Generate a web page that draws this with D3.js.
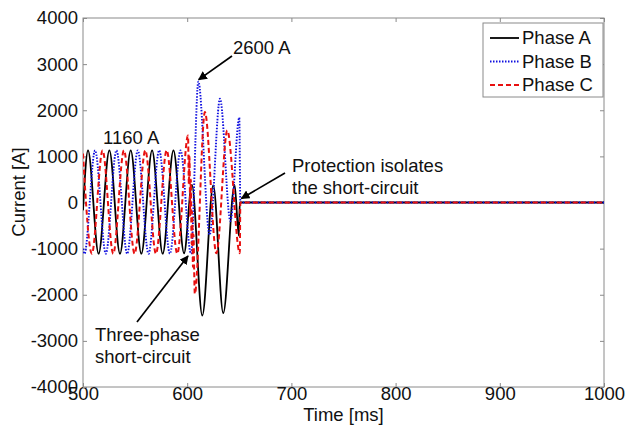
<!DOCTYPE html>
<html>
<head>
<meta charset="utf-8">
<script src="https://cdn.jsdelivr.net/npm/d3@7"></script>
<style>
  body { margin: 0; background: #fff; }
  text { font-family: "Liberation Sans", Arial, sans-serif; }
</style>
</head>
<body>
<svg id="chart" width="627" height="428"></svg>
<script>
// Extrema (time in ms, current in A)
var phaseA_t = [500, 504.8, 515, 525.3, 535.5, 545.8, 556, 566.3, 576.5, 586.8, 597, 604.5, 614.5, 625, 634.6, 645.5, 649.5, 650.5, 1000];
var phaseA_i = [-170, 1130, -1110, 1130, -1110, 1130, -1110, 1130, -1110, 1130, -1100, 380, -2450, 370, -2400, 380, -720, 0, 0];

var phaseB_t = [500, 501.4, 511.6, 521.9, 532.1, 542.4, 552.6, 562.9, 573.1, 583.4, 593.6, 603.6, 610.7, 621.5, 631.5, 641.5, 650, 651, 1000];
var phaseB_i = [-1000, -1110, 1130, -1110, 1130, -1110, 1130, -1110, 1130, -1110, 1130, -1110, 2620, -700, 2250, -400, 1840, 0, 0];

var phaseC_t = [500, 508.5, 518.8, 529, 539.3, 549.5, 559.8, 570, 580.3, 590.5, 600.8, 601.6, 602.2, 602.9, 603.5, 604.2, 604.8, 605.5, 606.1, 606.7, 607.3, 617, 628, 638.5, 650.5, 651, 1000];
var phaseC_i = [1060, -1110, 1130, -1110, 1130, -1110, 1130, -1110, 1130, -1110, 1450, 400, 1000, -300, 500, -900, -200, -1400, -700, -1500, -1980, 1960, -1100, 1560, -1100, 0, 0];

var seriesNames = ["Phase A", "Phase B", "Phase C"];
var xTicks = [500, 600, 700, 800, 900, 1000];
var yTicks = [-4000, -3000, -2000, -1000, 0, 1000, 2000, 3000, 4000];

// styling per series
var styles = [
    {color: "#000000", dash: null, width: 1.8},
    {color: "#1010e0", dash: "1.5,1.5", width: 1.9},
    {color: "#e81010", dash: "5,3", width: 2}
];

var margin = {top: 18, right: 23, bottom: 41, left: 83};
var width = 627 - margin.left - margin.right;
var height = 428 - margin.top - margin.bottom;
var fontSize = "18.5px";

var svg = d3.select("#chart");
var g = svg.append("g")
    .attr("transform", `translate(${margin.left}, ${margin.top})`);

var x = d3.scaleLinear().domain([500, 1000]).range([0, width]);
var y = d3.scaleLinear().domain([-4000, 4000]).range([height, 0]);

g.append("clipPath").attr("id", "clip")
    .append("rect").attr("width", width).attr("height", height);

// box + inward ticks like matlab
var axisColor = "#8a8a8a";
g.append("rect")
    .attr("width", width).attr("height", height)
    .attr("fill", "none").attr("stroke", axisColor);

var fmt = function(d) { return String(d); };
var xAxis = g.append("g").attr("transform", `translate(0, ${height})`)
    .call(d3.axisBottom(x).tickValues(xTicks).tickFormat(fmt).tickSizeInner(-4).tickSizeOuter(0).tickPadding(5));
var xAxisTop = g.append("g")
    .call(d3.axisTop(x).tickValues(xTicks).tickSizeInner(-4).tickSizeOuter(0).tickFormat(""));
var yAxis = g.append("g")
    .call(d3.axisLeft(y).tickValues(yTicks).tickFormat(fmt).tickSizeInner(-4).tickSizeOuter(0).tickPadding(5));
var yAxisRight = g.append("g").attr("transform", `translate(${width}, 0)`)
    .call(d3.axisRight(y).tickValues(yTicks).tickSizeInner(-4).tickSizeOuter(0).tickFormat(""));

[xAxis, xAxisTop, yAxis, yAxisRight].forEach(function(a) {
    a.select(".domain").remove();
    a.selectAll(".tick line").attr("stroke", axisColor);
    a.selectAll(".tick text")
        .attr("fill", "#111")
        .style("font-size", fontSize)
        .style("font-family", "Liberation Sans, Arial, sans-serif");
});
xAxis.selectAll(".tick text").attr("dy", "0.45em");

// axis labels
svg.append("text")
    .attr("x", margin.left + width / 2).attr("y", 421)
    .attr("text-anchor", "middle")
    .style("font-size", fontSize).attr("fill", "#111")
    .text("Time [ms]");

svg.append("text")
    .attr("transform", `translate(25, 192) rotate(-90)`)
    .attr("text-anchor", "middle")
    .style("font-size", fontSize).attr("fill", "#111")
    .text("Current [A]");

// waveforms
var line = d3.line()
    .x(function(d) { return x(d[0]); })
    .y(function(d) { return y(d[1]); })
    .curve(d3.curveMonotoneX);

var series = [
    d3.zip(phaseA_t, phaseA_i),
    d3.zip(phaseB_t, phaseB_i),
    d3.zip(phaseC_t, phaseC_i)
];

var plot = g.append("g").attr("clip-path", "url(#clip)");
plot.selectAll(".wave")
    .data(series)
    .join("path")
    .attr("class", "wave")
    .attr("fill", "none")
    .attr("stroke", function(d, i) { return styles[i].color; })
    .attr("stroke-width", function(d, i) { return styles[i].width; })
    .attr("stroke-dasharray", function(d, i) { return styles[i].dash; })
    .attr("d", line);

// annotations
svg.append("defs").append("marker")
    .attr("id", "arrow")
    .attr("viewBox", "0 0 10 10")
    .attr("refX", 9).attr("refY", 5)
    .attr("markerWidth", 9).attr("markerHeight", 9)
    .attr("markerUnits", "userSpaceOnUse")
    .attr("orient", "auto")
    .append("path").attr("d", "M0,0 L10,5 L0,10 z").attr("fill", "#000");

function label(lines, px, py) {
    var t = svg.append("text")
        .attr("x", px).attr("y", py)
        .style("font-size", fontSize).attr("fill", "#111");
    lines.forEach(function(s, i) {
        t.append("tspan").attr("x", px).attr("dy", i === 0 ? 0 : 22).text(s);
    });
}
function arrow(x1, y1, x2, y2) {
    svg.append("line")
        .attr("x1", x1).attr("y1", y1).attr("x2", x2).attr("y2", y2)
        .attr("stroke", "#000").attr("stroke-width", 1.7)
        .attr("marker-end", "url(#arrow)");
}

label(["2600 A"], 233, 54);
arrow(232, 56, margin.left + x(611), margin.top + y(2620) - 2);

label(["1160 A"], 103, 144);

label(["Protection isolates", "the short-circuit"], 292, 172);
arrow(285, 173, margin.left + x(652), margin.top + y(0) - 4);

label(["Three-phase", "short-circuit"], 95, 341);
arrow(137, 322, 188, 256);

// legend
var lg = svg.append("g").attr("transform", "translate(483, 23)");
lg.append("rect")
    .attr("width", 120).attr("height", 74)
    .attr("fill", "#fff").attr("stroke", axisColor);
seriesNames.forEach(function(name, i) {
    var yy = 15 + i * 23.5;
    lg.append("line")
        .attr("x1", 7).attr("x2", 36).attr("y1", yy).attr("y2", yy)
        .attr("stroke", styles[i].color)
        .attr("stroke-width", styles[i].width)
        .attr("stroke-dasharray", styles[i].dash);
    lg.append("text")
        .attr("x", 39).attr("y", yy).attr("dy", "0.35em")
        .style("font-size", fontSize).attr("fill", "#111")
        .text(name);
});
</script>
</body>
</html>
